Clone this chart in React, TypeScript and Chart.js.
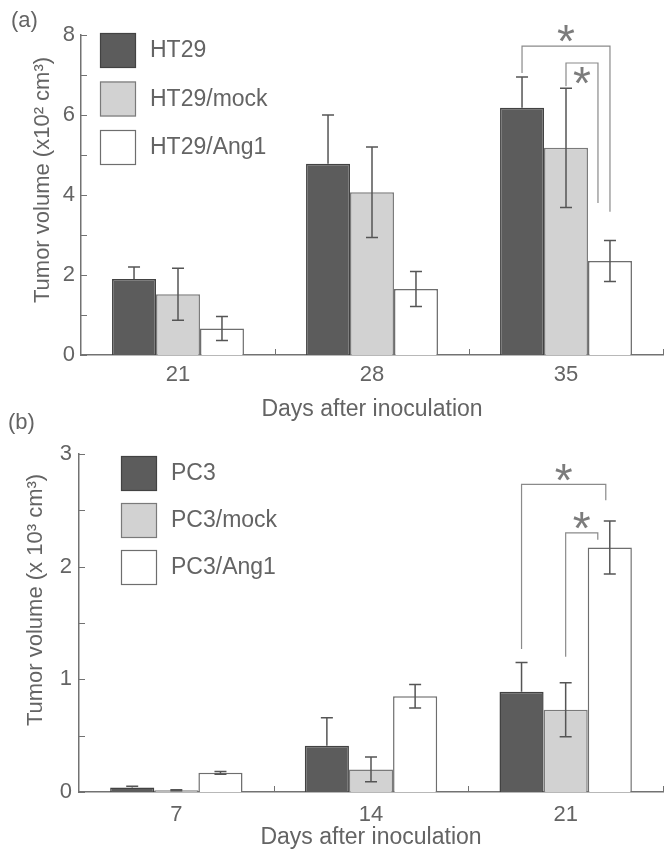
import { useEffect, useRef } from "react";
import { Chart, registerables } from "chart.js";

Chart.register(...registerables);

// ---------- Panel (a) data ----------
const daysA = ["21", "28", "35"];
const ht29 = [1.9, 4.78, 6.18];
const ht29Err = [0.3, 1.22, 0.77];
const ht29Mock = [1.52, 4.07, 5.18];
const ht29MockErr = [0.65, 1.13, 1.49];
const ht29Ang1 = [0.66, 1.65, 2.35];
const ht29Ang1Err = [0.3, 0.44, 0.51];
const tickLabelsA = [0, 2, 4, 6, 8];
// significance brackets: [category, left series, right series, left leg start, top, right leg end, star]
const bracketsA = [
  [2, 0, 2, 7.05, 7.72, 3.58, 8.05],
  [2, 1, 2, 6.72, 7.3, 3.8, 6.98],
];

// ---------- Panel (b) data ----------
const daysB = ["7", "14", "21"];
const pc3 = [0.04, 0.41, 0.89];
const pc3Err = [0.01, 0.25, 0.26];
const pc3Mock = [0.015, 0.2, 0.73];
const pc3MockErr = [0.005, 0.11, 0.24];
const pc3Ang1 = [0.17, 0.85, 2.17];
const pc3Ang1Err = [0.012, 0.105, 0.235];
const tickLabelsB = [0, 1, 2, 3];
const bracketsB = [
  [2, 0, 2, 1.27, 2.73, 2.59, 2.84],
  [2, 1, 2, 1.2, 2.3, 2.24, 2.41],
];

const FONT = "'Liberation Sans', Arial, sans-serif";
const TEXT = "#646464";
const AXIS = "#727272";
const DARK = "#5c5c5c";
const DARK_B = "#424242";
const LIGHT = "#d2d2d2";
const LIGHT_B = "#7a7a7a";
const WHITE = "#ffffff";
const WHITE_B = "#6e6e6e";

const decor = {
  id: "decor",
  afterDatasetsDraw(chart: any) {
    const ctx = chart.ctx as CanvasRenderingContext2D;
    const xs = chart.scales.x;
    const ys = chart.scales.y;
    const area = chart.chartArea;
    ctx.save();
    // inward tick marks
    ctx.strokeStyle = AXIS;
    ctx.lineWidth = 1;
    ys.ticks.forEach((t: any) => {
      const py = Math.round(ys.getPixelForValue(t.value)) + 0.5;
      ctx.beginPath();
      ctx.moveTo(area.left, py);
      ctx.lineTo(area.left + 6, py);
      ctx.stroke();
    });
    const n = chart.data.labels.length;
    const half = (xs.getPixelForValue(1) - xs.getPixelForValue(0)) / 2;
    for (let i = 0; i < n; i++) {
      const px = Math.round(xs.getPixelForValue(i) + half) + 0.5;
      ctx.beginPath();
      ctx.moveTo(px, area.bottom);
      ctx.lineTo(px, area.bottom - 6);
      ctx.stroke();
    }
    // error bars
    ctx.strokeStyle = "#555555";
    ctx.lineWidth = 1.5;
    chart.data.datasets.forEach((ds: any, di: number) => {
      const meta = chart.getDatasetMeta(di);
      ds.data.forEach((v: number, i: number) => {
        const e = ds.errors[i];
        const bx = meta.data[i].x;
        const top = ys.getPixelForValue(v + e);
        const bot = ys.getPixelForValue(ds.upperOnly ? v : v - e);
        ctx.beginPath();
        ctx.moveTo(bx, top);
        ctx.lineTo(bx, bot);
        ctx.moveTo(bx - 6, top);
        ctx.lineTo(bx + 6, top);
        if (!ds.upperOnly) {
          ctx.moveTo(bx - 6, bot);
          ctx.lineTo(bx + 6, bot);
        }
        ctx.stroke();
      });
    });
    ctx.restore();
  },
  afterDraw(chart: any, _a: any, opts: any) {
    const ctx = chart.ctx as CanvasRenderingContext2D;
    const ys = chart.scales.y;
    const area = chart.chartArea;
    ctx.save();
    // significance brackets
    (opts.brackets as number[][]).forEach((b, k) => {
      const [cat, l, r, yl, yt, yr, ystar] = b;
      const xl = chart.getDatasetMeta(l).data[cat].x;
      const xr = chart.getDatasetMeta(r).data[cat].x + opts.rightShift[k];
      const pl = ys.getPixelForValue(yl);
      const pt = ys.getPixelForValue(yt);
      const pr = ys.getPixelForValue(yr);
      ctx.strokeStyle = "#8a8a8a";
      ctx.lineWidth = 1.2;
      ctx.beginPath();
      ctx.moveTo(xl, pl);
      ctx.lineTo(xl, pt);
      ctx.lineTo(xr, pt);
      ctx.lineTo(xr, pr);
      ctx.stroke();
      ctx.fillStyle = "#7c7c7c";
      ctx.font = `46px ${FONT}`;
      ctx.textAlign = "center";
      ctx.textBaseline = "alphabetic";
      const m = ctx.measureText("*");
      const cy = ys.getPixelForValue(ystar);
      ctx.fillText("*", (xl + xr) / 2, cy + (m.actualBoundingBoxAscent - m.actualBoundingBoxDescent) / 2);
    });
    // legend
    const lg = opts.legend;
    chart.data.datasets.forEach((ds: any, i: number) => {
      const bx = area.left + lg.x;
      const by = area.top + lg.y + i * lg.gap;
      ctx.fillStyle = ds.backgroundColor;
      ctx.fillRect(bx, by, 36, 35);
      ctx.strokeStyle = ds.borderColor;
      ctx.lineWidth = 1.2;
      ctx.strokeRect(bx + 0.5, by + 0.5, 35, 34);
      ctx.fillStyle = TEXT;
      ctx.font = `23px ${FONT}`;
      ctx.textAlign = "left";
      ctx.textBaseline = "middle";
      ctx.fillText(ds.label, bx + 50, by + 18);
    });
    // y-axis title
    ctx.translate(opts.yTitle.x, opts.yTitle.y);
    ctx.rotate(-Math.PI / 2);
    ctx.fillStyle = TEXT;
    ctx.font = `22px ${FONT}`;
    ctx.textAlign = "center";
    ctx.textBaseline = "middle";
    ctx.fillText(opts.yTitle.text, 0, 0);
    ctx.restore();
  },
};

function makeConfig(p: any) {
  return {
    type: "bar",
    data: {
      labels: p.labels,
      datasets: p.series.map((s: any) => ({
        label: s.label,
        data: s.data,
        errors: s.errors,
        upperOnly: s.upperOnly,
        backgroundColor: s.fill,
        borderColor: s.border,
        borderWidth: 1.5,
        categoryPercentage: 0.68,
        barPercentage: 1.0,
      })),
    },
    options: {
      responsive: false,
      animation: false,
      layout: { padding: { left: 0, right: 6, top: p.top, bottom: 0 } },
      plugins: {
        legend: { display: false },
        tooltip: { enabled: false },
        decor: {
          brackets: p.brackets,
          rightShift: p.rightShift,
          legend: p.legend,
          yTitle: p.yTitle,
        },
      },
      scales: {
        x: {
          offset: true,
          grid: { display: false, drawTicks: false },
          border: { color: AXIS, width: 1.5 },
          ticks: { color: TEXT, font: { family: FONT, size: 22 }, padding: p.xPad },
          title: {
            display: true,
            text: "Days after inoculation",
            color: TEXT,
            font: { family: FONT, size: 23 },
            padding: { top: 0, bottom: p.xTitlePad },
          },
          afterFit: (s: any) => {
            s.height = p.xHeight;
          },
        },
        y: {
          min: 0,
          max: p.max,
          grid: { display: false, drawTicks: false },
          border: { color: AXIS, width: 1.5 },
          ticks: {
            stepSize: p.step,
            padding: p.yPad,
            color: TEXT,
            font: { family: FONT, size: 22 },
            callback: (v: number) => (p.tickLabels.includes(v) ? String(v) : ""),
          },
          afterFit: (s: any) => {
            s.width = p.yWidth;
          },
        },
      },
    },
    plugins: [decor],
  };
}

const panelA = {
  labels: daysA,
  series: [
    { label: "HT29", data: ht29, errors: ht29Err, upperOnly: true, fill: DARK, border: DARK_B },
    { label: "HT29/mock", data: ht29Mock, errors: ht29MockErr, upperOnly: false, fill: LIGHT, border: LIGHT_B },
    { label: "HT29/Ang1", data: ht29Ang1, errors: ht29Ang1Err, upperOnly: false, fill: WHITE, border: WHITE_B },
  ],
  brackets: bracketsA,
  rightShift: [0, -12],
  tickLabels: tickLabelsA,
  max: 8,
  step: 1,
  top: 35,
  xHeight: 75,
  yWidth: 81,
  xPad: 7,
  yPad: 6,
  xTitlePad: 7,
  legend: { x: 19, y: -2, gap: 48.5 },
  yTitle: { x: 43, y: 180, text: "Tumor volume (x10² cm³)" },
};

const panelB = {
  labels: daysB,
  series: [
    { label: "PC3", data: pc3, errors: pc3Err, upperOnly: true, fill: DARK, border: DARK_B },
    { label: "PC3/mock", data: pc3Mock, errors: pc3MockErr, upperOnly: false, fill: LIGHT, border: LIGHT_B },
    { label: "PC3/Ang1", data: pc3Ang1, errors: pc3Ang1Err, upperOnly: false, fill: WHITE, border: WHITE_B },
  ],
  brackets: bracketsB,
  rightShift: [-4, -12],
  tickLabels: tickLabelsB,
  max: 3,
  step: 0.5,
  top: 24,
  xHeight: 62,
  yWidth: 79,
  xPad: 10,
  yPad: 7,
  xTitlePad: 3,
  legend: { x: 42, y: 2, gap: 47 },
  yTitle: { x: 36, y: 170, text: "Tumor volume (x 10³ cm³)" },
};

function Panel({ cfg, top, height }: { cfg: any; top: number; height: number }) {
  const ref = useRef<HTMLCanvasElement | null>(null);
  useEffect(() => {
    if (!ref.current) return;
    const chart = new Chart(ref.current, makeConfig(cfg) as any);
    return () => chart.destroy();
  }, [cfg]);
  return (
    <canvas
      ref={ref}
      width={669}
      height={height}
      style={{ position: "absolute", left: 0, top, width: 669, height, display: "block" }}
    />
  );
}

const labelStyle: any = {
  position: "absolute",
  fontFamily: FONT,
  fontSize: 22,
  lineHeight: "26px",
  color: TEXT,
  margin: 0,
};

export default function App() {
  return (
    <div style={{ position: "absolute", left: 0, top: 0, width: 669, height: 854, background: "#fff" }}>
      <Panel cfg={panelA} top={0} height={430} />
      <Panel cfg={panelB} top={430} height={424} />
      <div style={{ ...labelStyle, left: 11, top: 7 }}>(a)</div>
      <div style={{ ...labelStyle, left: 8, top: 409 }}>(b)</div>
    </div>
  );
}
